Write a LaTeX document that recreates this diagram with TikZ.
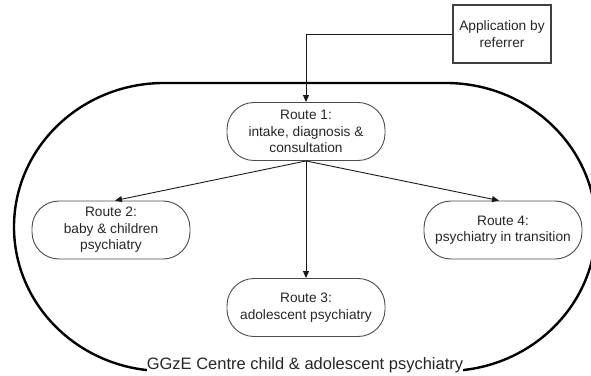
\documentclass[tikz,border=0pt]{standalone}
\usepackage{fontspec}
\setmainfont{Liberation Sans}
\usetikzlibrary{arrows.meta}
\begin{document}
\begin{tikzpicture}[x=1pt,y=1pt,
  route/.style={draw=black!70, line width=0.9pt, rounded corners=27pt,
    minimum width=158pt, minimum height=58pt, inner sep=0pt, align=center,
    text=black!85, font=\fontsize{13.7}{16.5}\selectfont},
  appbox/.style={draw=black!75, line width=1.2pt, minimum width=98pt,
    minimum height=58pt, inner sep=0pt, align=center, text=black!85,
    font=\fontsize{13.7}{17}\selectfont},
  flow/.style={draw=black!90, line width=0.9pt, -{Triangle[length=7pt,width=6pt]}},
  centre/.style={draw=black, line width=2.4pt},
  centrelabel/.style={fill=white, inner xsep=0pt, inner ysep=2pt, text=black!85,
    font=\fontsize{16.5}{19}\selectfont}]
\useasboundingbox (0,0) rectangle (591,375);

% outer boundary of the centre
\draw[centre] (164,292) -- (446,292)
  arc[start angle=90, end angle=-90, x radius=150, y radius=144]
  -- (164,4)
  arc[start angle=270, end angle=90, x radius=150, y radius=144] -- cycle;

\node[appbox] (app) at (502,341) {Application by\\referrer};
\node[route] (r1) at (306,243.5) {Route 1:\\intake, diagnosis \&\\consultation};
\node[route] (r2) at (111,145) {Route 2:\\baby \& children\\psychiatry};
\node[route] (r3) at (306,67.5) {Route 3:\\adolescent psychiatry};
\node[route] (r4) at (503,145) {Route 4:\\psychiatry in transition};
\node[centrelabel, anchor=base] (centre) at (305,5.5) {GGzE Centre child \& adolescent psychiatry};

\draw[flow] (app.west) -| (r1.north);
\draw[flow] (r1.south) -- ([xshift=4pt]r2.north);
\draw[flow] (r1.south) -- ([xshift=-4pt]r4.north);
\draw[flow] (r1.south) -- (r3.north);
\end{tikzpicture}
\end{document}
